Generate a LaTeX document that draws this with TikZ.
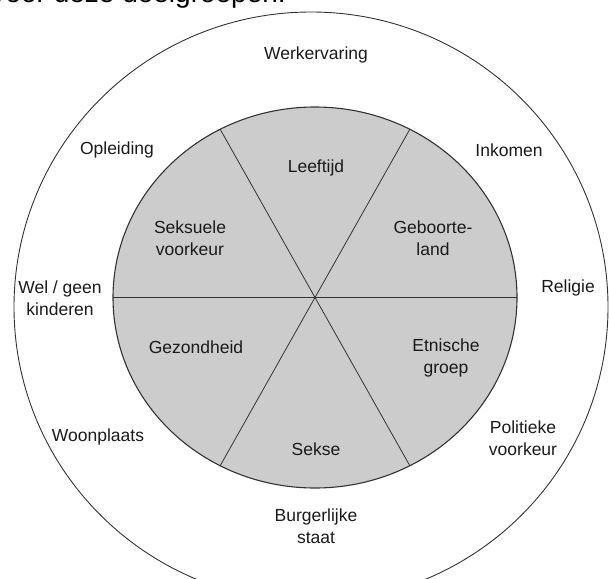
\documentclass[tikz,border=0pt]{standalone}
\usepackage{fontspec}
\setmainfont{Liberation Sans}
\definecolor{sectorgray}{HTML}{CCCCCC}
\definecolor{linegray}{HTML}{333333}
\definecolor{txt}{HTML}{1A1A1A}
\begin{document}
\begin{tikzpicture}[x=1pt,y=-1pt,
  lbl/.style={font=\fontsize{17.5}{22.5}\selectfont, text=txt, align=center, inner sep=0pt},
  ring/.style={draw=linegray, line width=0.9pt},
  spoke/.style={draw=linegray, line width=0.8pt}]
\useasboundingbox (0,0) rectangle (609,578);
\clip (0,0) rectangle (609,578);
% partially visible heading
\node[anchor=base east, font=\fontsize{28}{32}\selectfont, text=black, inner sep=0pt] (head) at (286,3) {voor deze doelgroepen.};
% outer ring
\draw[ring] (311,307) ellipse [x radius=297, y radius=295];
% inner disc
\coordinate (c) at (315,297.5);
\fill[sectorgray] (c) ellipse [x radius=202, y radius=190.5];
\coordinate (e0) at (113,297.5);
\coordinate (e1) at (517,297.5);
\coordinate (a1) at (220.2,129.3);
\coordinate (a2) at (409.8,465.7);
\coordinate (b1) at (409.8,129.3);
\coordinate (b2) at (220.2,465.7);
\draw[spoke] (e0) -- (e1);
\draw[spoke] (a1) -- (a2);
\draw[spoke] (b1) -- (b2);
\draw[draw=linegray, line width=1.1pt] (c) ellipse [x radius=202, y radius=190.5];
% inner labels
\node[lbl] (leeftijd) at (316,168) {Leeftijd};
\node[lbl] (geboorte) at (433,238) {Geboorte-\\land};
\node[lbl] (etnisch) at (446,358) {Etnische\\groep};
\node[lbl] (sekse) at (316,449) {Sekse};
\node[lbl] (gezond) at (196,347) {Gezondheid};
\node[lbl] (seksvk) at (190,238) {Seksuele\\voorkeur};
% outer labels
\node[lbl] (werk) at (316,55) {Werkervaring};
\node[lbl] (opl) at (117,150) {Opleiding};
\node[lbl] (ink) at (509,150) {Inkomen};
\node[lbl] (kind) at (60,298) {Wel / geen\\kinderen};
\node[lbl] (rel) at (568,288) {Religie};
\node[lbl] (woon) at (98,437) {Woonplaats};
\node[lbl] (polvk) at (523,438) {Politieke\\voorkeur};
\node[lbl] (burg) at (316,526) {Burgerlijke\\staat};
\end{tikzpicture}
\end{document}
